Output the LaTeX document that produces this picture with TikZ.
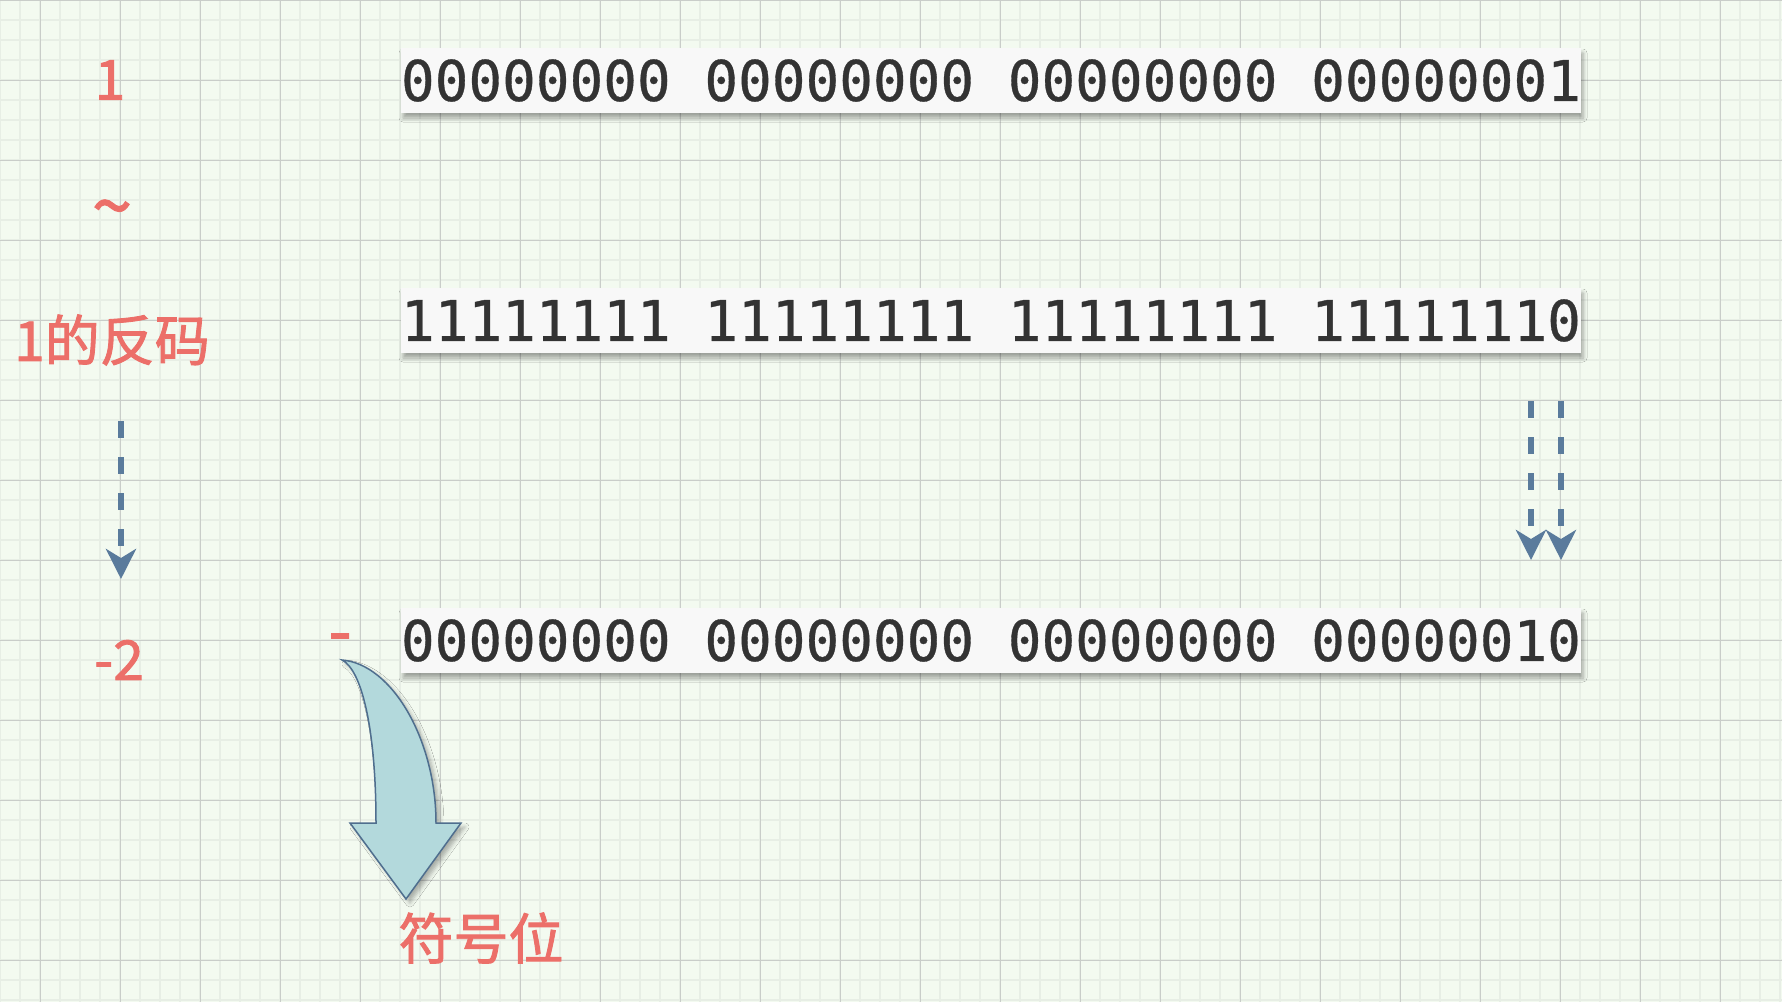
\documentclass[tikz,border=0pt]{standalone}
\usepackage{fontspec}
\newfontfamily\cjk[FakeBold=1.6]{Noto Sans CJK SC}
\newfontfamily\mono[FakeBold=0.6]{DejaVu Sans Mono}
\usetikzlibrary{arrows.meta,shadows.blur}
\definecolor{bgc}{HTML}{F3FAF0}
\definecolor{minorc}{HTML}{E7EEE5}
\definecolor{majorc}{HTML}{C9CDC9}
\definecolor{redc}{HTML}{EC6F69}
\definecolor{bluec}{HTML}{5A7B9C}
\definecolor{boxc}{HTML}{F8F8F8}
\definecolor{txtc}{HTML}{333333}
\definecolor{tealc}{HTML}{B3D9DC}
\definecolor{edgec}{HTML}{4F6E8E}
\tikzset{
  minorline/.style={draw=minorc,line width=2pt},
  majorline/.style={draw=majorc,line width=1pt},
  bitbox/.style={fill=boxc,text=txtc,inner xsep=0pt,inner ysep=0pt,
    minimum width=1180pt,minimum height=65pt,
    font=\mono\fontsize{56}{60}\selectfont,
    blur shadow={shadow xshift=2pt,shadow yshift=-5pt,shadow blur radius=4pt,shadow opacity=35}},
  redlabel/.style={text=redc,inner sep=0pt,font=\cjk\fontsize{55}{60}\selectfont},
  dasharrow/.style={draw=bluec,line width=6pt,dash pattern=on 17pt off 19pt,
    -{Stealth[length=30pt,width=30pt,inset=9pt]}},
}
\begin{document}
\begin{tikzpicture}[x=1pt,y=-1pt]
\useasboundingbox (0,0) rectangle (1782,1002);
\fill[bgc] (0,0) rectangle (1782,1002);
\foreach \x in {0,20,...,1780} \draw[minorline] (\x,0) -- (\x,1002);
\foreach \y in {0,20,...,1000} \draw[minorline] (0,\y) -- (1782,\y);
\foreach \x in {40,120,...,1780} \draw[majorline] (\x,0) -- (\x,1002);
\foreach \y in {0,80,...,1000} \draw[majorline] (0,\y) -- (1782,\y);

% bit rows
\node[bitbox] (r1) at (991,80.5) {00000000 00000000 00000000 00000001};
\node[bitbox] (r2) at (991,320.5) {11111111 11111111 11111111 11111110};
\node[bitbox] (r3) at (991,640.5) {00000000 00000000 00000000 00000010};

% labels
\node[redlabel] (l1) at (110,80) {1};
\node[redlabel,font=\cjk\fontsize{72}{76}\selectfont] (lt) at (112,216) {\char"007E};
\node[redlabel] (lf) at (112,340) {1的反码};
\node[redlabel] (lm) at (119,660) {-2};
\node[redlabel,font=\cjk\fontsize{66}{70}\selectfont] (ls) at (340,644) {-};
\node[redlabel] (lw) at (481,938) {符号位};

% dashed arrows
\coordinate (a1s) at (121,421);
\coordinate (a1e) at (121,579);
\coordinate (a2s) at (1531,401);
\coordinate (a2e) at (1531,560);
\coordinate (a3s) at (1561,401);
\coordinate (a3e) at (1561,560);
\draw[dasharrow] (a1s) -- (a1e);
\draw[dasharrow] (a2s) -- (a2e);
\draw[dasharrow] (a3s) -- (a3e);

% curved block arrow
\coordinate (ct) at (342,660);
\draw[fill=tealc,draw=edgec,line width=1.5pt,line join=miter,
  blur shadow={shadow xshift=4pt,shadow yshift=-4pt,shadow blur radius=4pt,shadow opacity=30}]
  (ct) .. controls (392,664) and (436,740) .. (436,823)
  -- (461,823) -- (406,899) -- (350,823) -- (376,823)
  .. controls (376,730) and (362,670) .. (ct) -- cycle;
\end{tikzpicture}
\end{document}
